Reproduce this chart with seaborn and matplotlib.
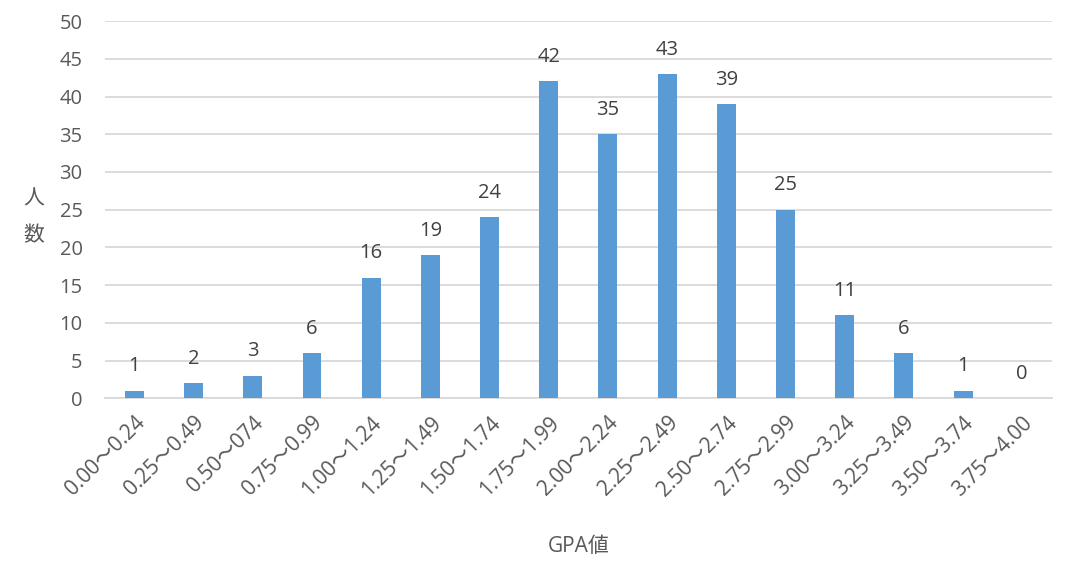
import matplotlib
matplotlib.use("Agg")
import matplotlib.pyplot as plt
import pandas as pd
import seaborn as sns

categories = [
    "0.00～0.24", "0.25～0.49", "0.50～074", "0.75～0.99",
    "1.00～1.24", "1.25～1.49", "1.50～1.74", "1.75～1.99",
    "2.00～2.24", "2.25～2.49", "2.50～2.74", "2.75～2.99",
    "3.00～3.24", "3.25～3.49", "3.50～3.74", "3.75～4.00",
]
counts = [1, 2, 3, 6, 16, 19, 24, 42, 35, 43, 39, 25, 11, 6, 1, 0]
y_ticks = list(range(0, 51, 5))

sns.set_theme(style="white")
plt.rcParams["font.family"] = ["Open Sans", "Noto Sans CJK JP", "DejaVu Sans"]

TEXT = "#595959"
df = pd.DataFrame({"cat": categories, "n": counts})

fig = plt.figure(figsize=(10.7, 5.69), dpi=100)
ax = fig.add_axes([0.098, 0.300, 0.885, 0.663])
sns.barplot(data=df, x="cat", y="n", color="#5B9BD5", width=0.32,
            saturation=1, linewidth=0, ax=ax, zorder=3)

ax.set_ylim(0, 50)
ax.set_yticks(y_ticks)
ax.yaxis.grid(True, color="#D9D9D9", linewidth=1.3, zorder=0)
ax.set_axisbelow(True)
for s in ["top", "right", "left"]:
    ax.spines[s].set_visible(False)
ax.spines["bottom"].set_color("#D9D9D9")
ax.spines["bottom"].set_linewidth(1.3)
ax.tick_params(axis="y", length=0, colors=TEXT, labelsize=14.5, pad=16)
ax.tick_params(axis="x", length=0, colors=TEXT, labelsize=15, pad=10)
plt.setp(ax.get_xticklabels(), rotation=45, ha="right", rotation_mode="anchor")

for i, v in enumerate(counts):
    ax.text(i, v + 1.9, str(v), ha="center", va="bottom", fontsize=14.5, color="#404040")

ax.set_xlabel("GPA値", fontsize=15, color=TEXT, labelpad=26)
ax.set_ylabel("人\n数", fontsize=15, color=TEXT, rotation=0, linespacing=2.0,
              va="center", ha="center")
ax.yaxis.set_label_coords(-0.075, 0.48)

fig.savefig("out.png", dpi=100)
